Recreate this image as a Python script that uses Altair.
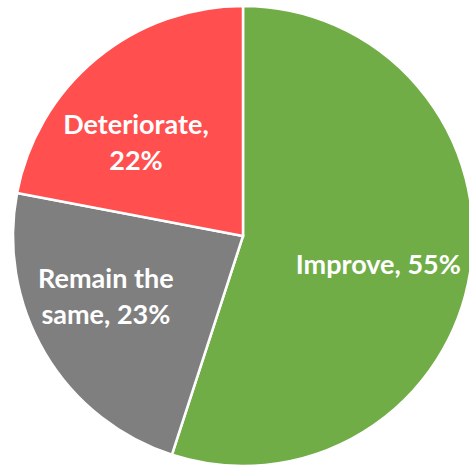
import altair as alt
import pandas as pd

categories = ["Improve", "Remain the same", "Deteriorate"]
values = [55, 23, 22]
labels = ["Improve, 55%", "Remain the\nsame, 23%", "Deteriorate,\n22%"]
colors = ["#70AD47", "#7F7F7F", "#FF4F4F"]

df = pd.DataFrame({"cat": categories, "val": values, "label": labels, "idx": [0, 1, 2]})

CX, CY = 243, 236

pie = alt.Chart(df).mark_arc(outerRadius=230, stroke="white", strokeWidth=2.5, x=CX, y=CY).encode(
    theta=alt.Theta("val:Q", stack=True),
    order=alt.Order("idx:Q"),
    color=alt.Color("cat:N", scale=alt.Scale(domain=categories, range=colors), legend=None),
)

text_base = alt.Chart(df).transform_window(
    cum="sum(val)", sort=[alt.SortField("idx")]
).transform_calculate(mid="datum.cum - datum.val / 2")

offsets = {"Improve": (0, 9, 137), "Remain the same": (-8, -32, 150), "Deteriorate": (-21, -6, 135)}
texts = []
for c in categories:
    dx, dy, r = offsets[c]
    texts.append(
        text_base.transform_filter(alt.datum.cat == c).mark_text(
            radius=r, x=CX, y=CY, dx=dx, dy=dy, font="Lato", fontSize=27, fontWeight="bold",
            color="white", lineBreak="\n", lineHeight=36, align="center", baseline="middle",
        ).encode(
            theta=alt.Theta("mid:Q", scale=alt.Scale(domain=[0, 100], range=[0, 6.283185307179586])),
            text="label:N",
        )
    )

chart = alt.layer(pie, *texts).resolve_scale(theta="independent").properties(
    width=469, height=468, padding=0, autosize="none"
).configure_view(stroke=None)

chart.save("out.html", embed_options={"renderer": "svg", "actions": False})
